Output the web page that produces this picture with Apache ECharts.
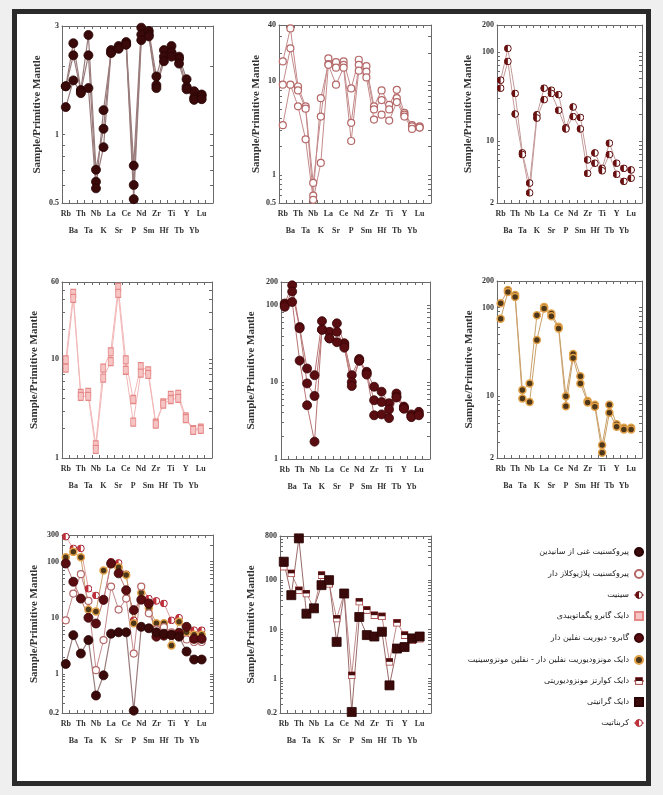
<!DOCTYPE html>
<html><head><meta charset="utf-8">
<script src="https://cdn.jsdelivr.net/npm/echarts@6/dist/echarts.min.js"></script>
<style>
html,body{margin:0;padding:0;background:#efefef;}
#frame{position:absolute;left:12px;top:9px;width:629px;height:767px;border:5px solid #2b2b2b;background:#fff;}
#c{position:absolute;left:0;top:0;width:663px;height:795px;}
</style>
</head><body><div id="frame"></div><div id="c"></div>
<script>
const categories = ['Rb','Ba','Th','Ta','Nb','K','La','Sr','Ce','P','Nd','Sm','Zr','Hf','Ti','Tb','Y','Yb','Lu'];
const yAxisTitle = 'Sample/Primitive Mantle';
const legendNames = [
  'پیروکسنیت غنی از سانیدین',
  'پیروکسنیت پلاژیوکلاز دار',
  'سینیت',
  'دایک گابرو پگماتوییدی',
  'گابرو- دیوریت نفلین دار',
  'دایک مونزودیوریت نفلین دار - نفلین مونزوسینیت',
  'دایک کوارتز مونزودیوریتی',
  'دایک گرانیتی',
  'کربناتیت'
];

// y tick labels per panel
const p1Labels = [0.5, 1, 3];
const p2Labels = [0.5, 1, 10, 40];
const p3Labels = [2, 10, 100, 200];
const p4Labels = [1, 10, 60];
const p5Labels = [1, 10, 100, 200];
const p6Labels = [2, 10, 100, 200];
const p7Labels = [0.2, 1, 10, 100, 300];
const p8Labels = [0.2, 1, 10, 100, 800];

// panel 1
const p1a = [1.63, 2.52, 1.57, 2.74, 0.70, 1.06, 2.35, 2.45, 2.55, 0.73, 2.95, 2.85, 1.80, 2.35, 2.45, 2.20, 1.75, 1.55, 1.50];
const p1b = [1.63, 2.23, 1.55, 2.23, 0.62, 0.88, 2.30, 2.40, 2.50, 0.60, 2.75, 2.75, 1.65, 2.20, 2.30, 2.15, 1.62, 1.45, 1.48];
const p1c = [1.32, 1.73, 1.52, 1.60, 0.58, 1.28, 2.28, 2.38, 2.48, 0.52, 2.60, 2.70, 1.60, 2.10, 2.20, 2.05, 1.58, 1.42, 1.43];
// panel 2
const p2a = [16.3, 36.8, 8.8, 5.4, 0.82, 4.2, 17.6, 16, 16.3, 8.4, 17, 14.5, 5.4, 8.0, 5.6, 8.1, 4.6, 3.4, 3.3];
const p2b = [9.2, 22.5, 8.0, 5.1, 0.60, 6.6, 15.3, 14, 15, 3.6, 15, 12.7, 5.0, 6.3, 5.0, 6.6, 4.4, 3.3, 3.2];
const p2c = [3.4, 9.2, 5.4, 2.4, 0.54, 1.34, 15, 9.2, 14, 2.3, 13, 11, 3.9, 4.4, 3.8, 6.0, 4.2, 3.1, 3.2];
// panel 3
const p3a = [48, 109, 34, 7.3, 3.35, 19.6, 39, 37, 33, 14, 24, 18.3, 6.1, 7.3, 4.9, 9.4, 5.6, 4.9, 4.7];
const p3b = [39, 78, 20, 7.0, 2.6, 18, 29, 34, 22, 13.6, 18.7, 13.6, 4.3, 5.6, 4.6, 7.0, 4.2, 3.5, 3.8];
// panel 4
const p4a = [9.8, 46, 4.5, 4.6, 1.36, 8.1, 11.8, 53, 9.8, 3.9, 8.4, 7.6, 2.25, 3.6, 4.3, 4.4, 2.6, 1.93, 2.0];
const p4b = [8.1, 41, 4.2, 4.2, 1.22, 6.4, 9.4, 46, 7.7, 2.3, 7.2, 7.0, 2.2, 3.5, 3.9, 4.0, 2.5, 1.9, 1.95];
// panel 5
const p5a = [105, 181, 52, 15, 12.3, 62, 45, 58, 32, 12.3, 20, 13.6, 8.7, 7.5, 5.3, 7.1, 4.8, 3.8, 4.1];
const p5b = [100, 150, 50, 9.6, 6.6, 48, 37, 45, 30, 10, 19, 13, 5.8, 5.5, 4.4, 6.5, 4.6, 3.6, 3.8];
const p5c = [95, 110, 19, 5.0, 1.68, 48, 37, 33, 28, 8.9, 19, 12.5, 3.7, 3.8, 3.4, 6.3, 4.5, 3.5, 3.7];
// panel 6
const p6a = [112, 158, 139, 11.7, 13.9, 82, 102, 86, 61, 10, 30, 16.8, 8.8, 8.0, 2.8, 8.0, 4.8, 4.4, 4.4];
const p6b = [75, 150, 132, 9.4, 8.6, 43, 98, 80, 58, 7.7, 27, 13.9, 8.5, 7.6, 2.3, 6.5, 4.5, 4.2, 4.2];
// panel 7
const p7a = [1.5, 4.9, 2.3, 4.0, 0.41, 0.94, 5.2, 5.5, 5.5, 0.22, 6.9, 6.5, 5.5, 5.2, 4.9, 4.6, 2.5, 1.8, 1.8];
const p7b = [93, 44, 22, 10, 7.9, 21, 93, 62, 31, 13.7, 21, 18, 4.6, 4.8, 5.0, 5.4, 6.9, 4.2, 4.2];
const p7c = [280, 173, 173, 33, 25, 20, 100, 95, 60, 9, 36, 22, 20, 18, 9, 10, 5.8, 6.0, 6.0];
const p7d = [9, 27, 60, 20, 1.16, 4, 36, 14, 22, 2.3, 36, 12, 6.2, 6.8, 5.5, 4.6, 4.1, 3.7, 3.7];
const p7e = [120, 150, 120, 14, 13, 70, 90, 80, 58, 8, 28, 15, 8, 8, 3.2, 8.5, 5.5, 5.0, 5.0];
// panel 8
const p8a = [240, 50, 716, 21, 27, 80, 101, 5.6, 54, 0.21, 18, 7.7, 7.2, 9, 0.73, 4.1, 4.4, 6.6, 7.2];
const p8b = [190, 139, 63, 54, 27, 128, 85, 16.7, 54, 1.17, 37, 25, 19.6, 18.6, 2.2, 13.7, 7.7, 6.0, 6.5];

function svgSym(inner){
  return 'image://data:image/svg+xml;charset=utf-8,' + encodeURIComponent("<svg xmlns='http://www.w3.org/2000/svg' width='20' height='20' viewBox='0 0 20 20'>" + inner + "</svg>");
}
const halfCircle = (fill, stroke) => svgSym("<circle cx='10' cy='10' r='8.5' fill='#fff' stroke='" + stroke + "' stroke-width='2.5'/><path d='M10 1.5 A8.5 8.5 0 0 0 10 18.5 Z' fill='" + fill + "'/>");
const halfSquare = svgSym("<rect x='1.5' y='1.5' width='17' height='17' fill='#fff' stroke='#a84848' stroke-width='2.5'/><rect x='1.5' y='1.5' width='17' height='8.5' fill='#4a0c0c'/>");

const styles = {
  dark:   {symbol:'circle', symbolSize:9, itemStyle:{color:'#3a0a0a', borderColor:'#2a0404', borderWidth:0.8}, lineStyle:{color:'#9a7c7c', width:1.2}},
  open:   {symbol:'circle', symbolSize:7, itemStyle:{color:'#ffffff', borderColor:'#b56868', borderWidth:1.2}, lineStyle:{color:'#c48a8a', width:1}},
  half:   {symbol:halfCircle('#6a1010', '#5a0a0a'), symbolSize:8, itemStyle:{color:'#6a1010'}, lineStyle:{color:'#c49a9a', width:1}},
  pinkRect:{symbol:'rect', symbolSize:[5,8], itemStyle:{color:'#f7c4c4', borderColor:'#e58888', borderWidth:1}, lineStyle:{color:'#f2b8b8', width:1}},
  darkRed:{symbol:'circle', symbolSize:9, itemStyle:{color:'#5a0d10', borderColor:'#3a0508', borderWidth:0.8}, lineStyle:{color:'#b87474', width:1}},
  tan:    {symbol:'circle', symbolSize:7, itemStyle:{color:'#4e3618', borderColor:'#e2a24a', borderWidth:1.5}, lineStyle:{color:'#c9a06a', width:1}},
  halfSq: {symbol:halfSquare, symbolSize:8, itemStyle:{color:'#4a0c0c'}, lineStyle:{color:'#c08a8a', width:1}},
  darkSq: {symbol:'rect', symbolSize:9, itemStyle:{color:'#3a0a0a', borderColor:'#2a0404', borderWidth:0.8}, lineStyle:{color:'#9a6a6a', width:1}},
  redHalf:{symbol:halfCircle('#c0303a', '#a02030'), symbolSize:8, itemStyle:{color:'#c0303a'}, lineStyle:{color:'#e0a0a0', width:1}}
};

const panels = [
  {grid:{left:62, top:26, width:151, height:177}, min:0.5, max:3, labels:p1Labels, gap:19,
   series:[[0,p1a,'dark'],[0,p1b,'dark'],[0,p1c,'dark']]},
  {grid:{left:279, top:25, width:152, height:178}, min:0.5, max:40, labels:p2Labels, gap:15,
   series:[[1,p2a,'open'],[1,p2b,'open'],[1,p2c,'open']]},
  {grid:{left:497, top:25, width:145, height:178}, min:2, max:200, labels:p3Labels, gap:23,
   series:[[2,p3a,'half'],[2,p3b,'half']]},
  {grid:{left:62, top:282, width:150, height:176}, min:1, max:60, labels:p4Labels, gap:22,
   series:[[3,p4a,'pinkRect'],[3,p4b,'pinkRect']]},
  {grid:{left:281, top:282, width:149, height:177}, min:1, max:200, labels:p5Labels, gap:24,
   series:[[4,p5a,'darkRed'],[4,p5b,'darkRed'],[4,p5c,'darkRed']]},
  {grid:{left:497, top:281, width:145, height:177}, min:2, max:200, labels:p6Labels, gap:22,
   series:[[5,p6a,'tan'],[5,p6b,'tan']]},
  {grid:{left:62, top:535, width:151, height:178}, min:0.2, max:300, labels:p7Labels, gap:22,
   series:[[8,p7c,'redHalf'],[5,p7e,'tan'],[1,p7d,'open'],[4,p7b,'darkRed'],[0,p7a,'dark']]},
  {grid:{left:280, top:536, width:151, height:177}, min:0.2, max:800, labels:p8Labels, gap:23,
   series:[[6,p8b,'halfSq'],[7,p8a,'darkSq']]}
];

function minorTicks(min, max){
  const out = [];
  for (let e = -2; e <= 3; e++) for (let m = 1; m <= 9; m++) {
    const v = +(m * Math.pow(10, e)).toPrecision(6);
    if (v >= min - 1e-9 && v <= max + 1e-9) out.push(v);
  }
  return out;
}

const serif = 'Liberation Serif';
const axisColor = '#6a6a6a';
const axisCats = categories.concat(['']);
const option = {backgroundColor:'transparent', animation:false, grid:[], xAxis:[], yAxis:[], series:[],
  legend:{data:legendNames, orient:'vertical', right:13, top:542, align:'right', itemWidth:10, itemHeight:10, itemGap:12,
    selectedMode:false, textStyle:{fontFamily:'DejaVu Sans', fontSize:8, color:'#1a1a1a'}}
};

panels.forEach((p, i) => {
  option.grid.push(Object.assign({outerBoundsMode:'none', containLabel:false}, p.grid));
  const xBase = {type:'category', gridIndex:i, data:axisCats, boundaryGap:true,
    axisLine:{onZero:false, lineStyle:{color:axisColor, width:1}},
    axisTick:{show:true, inside:true, length:3, interval:0, lineStyle:{color:axisColor}},
    splitLine:{show:false}};
  option.xAxis.push(Object.assign({}, xBase, {position:'bottom',
    axisLabel:{interval:0, margin:2, lineHeight:17, fontFamily:serif, fontWeight:'bold', fontSize:8, color:'#333',
      formatter:(v, idx) => (idx % 2 ? '\n' + v : v)}}));
  option.xAxis.push(Object.assign({}, xBase, {position:'top', axisLabel:{show:false}}));
  const ticks = minorTicks(p.min, p.max);
  const yBase = {type:'log', gridIndex:i, min:p.min, max:p.max, logBase:10,
    axisLine:{show:true, onZero:false, lineStyle:{color:axisColor, width:1}},
    axisTick:{show:true, inside:true, length:3, customValues:ticks, lineStyle:{color:axisColor}},
    splitLine:{show:false}, minorTick:{show:false}, minorSplitLine:{show:false}};
  option.yAxis.push(Object.assign({}, yBase, {position:'left', name:yAxisTitle, nameLocation:'middle', nameGap:p.gap, nameRotate:90,
    nameTextStyle:{fontFamily:serif, fontWeight:'bold', fontSize:11, color:'#333'},
    axisLabel:{customValues:p.labels, margin:3, fontFamily:serif, fontWeight:'bold', fontSize:8, color:'#333', formatter:v => String(v)}}));
  option.yAxis.push(Object.assign({}, yBase, {position:'right', axisLabel:{show:false}}));
  p.series.forEach(s => {
    option.series.push(Object.assign({type:'line', name:legendNames[s[0]], xAxisIndex:2*i, yAxisIndex:2*i,
      data:s[1], z:3, emphasis:{disabled:true}}, styles[s[2]]));
  });
});

const chart = echarts.init(document.getElementById('c'), null, {renderer:'canvas'});
chart.setOption(option);
</script>
</body></html>
